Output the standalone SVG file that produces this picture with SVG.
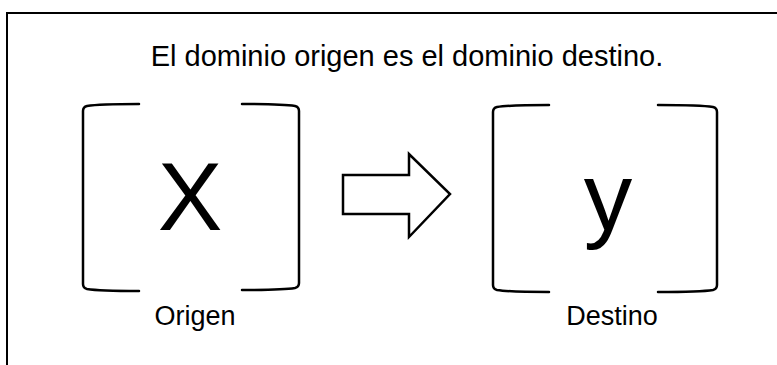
<svg xmlns="http://www.w3.org/2000/svg" width="777" height="365" viewBox="0 0 777 365">
<style>
  .frame{fill:none;stroke:#000;stroke-width:2}
  .br{fill:none;stroke:#000;stroke-width:2.5;stroke-linecap:round;stroke-linejoin:round}
  .t{font-family:"Liberation Sans",Arial,sans-serif;fill:#000;text-anchor:middle}
  .title{font-size:29px}
  .big{font-size:97px}
  .lbl{font-size:27px}
  .arrow{fill:#fff;stroke:#000;stroke-width:2.5;stroke-linejoin:miter}
</style>
<rect x="0" y="0" width="777" height="365" fill="#fff"/>
<rect class="frame" x="7" y="13" width="800" height="400"/>
<g id="title">
  <text class="t title" x="407" y="66">El dominio origen es el dominio destino.</text>
</g>
<g id="origen">
  <path class="br" d="M139,104 C112,104 93,105 87,106 Q83,107 83,111 V284 Q83,288 87,289 C93,290 112,291 139,291"/>
  <path class="br" d="M242,104 C270,104 289,105 295,106 Q299,107 299,111 V283 Q299,287 295,288 C289,289 270,290 242,290"/>
  <text class="t big" x="190" y="230">X</text>
  <text class="t lbl" x="195" y="325">Origen</text>
</g>
<g id="connectors">
  <polygon class="arrow" points="343,175 409,175 409,154 450,194 409,237 409,214 343,214"/>
</g>
<g id="destino">
  <path class="br" d="M549,105 C522,105 503,106 497,107 Q493,108 493,112 V285 Q493,289 497,290 C503,291 522,292 549,292"/>
  <path class="br" d="M658,105 C688,105 707,106 713,107 Q717,108 717,112 V285 Q717,289 713,290 C707,291 688,292 658,292"/>
  <text class="t big" x="608" y="230">y</text>
  <text class="t lbl" x="612" y="325">Destino</text>
</g>
</svg>
